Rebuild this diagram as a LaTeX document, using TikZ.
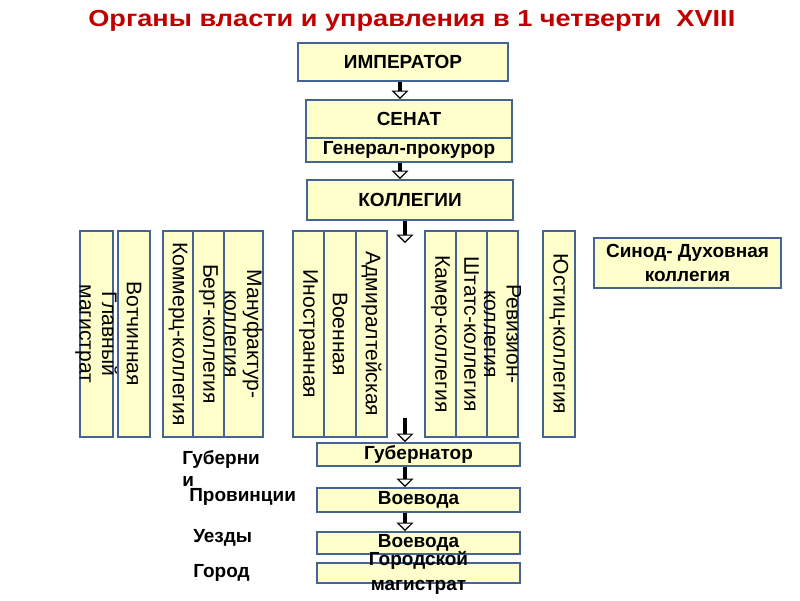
\documentclass[tikz,border=0pt]{standalone}
\usepackage{fontspec}
\setmainfont{Liberation Sans}
\usetikzlibrary{arrows.meta}

\begin{document}
\begin{tikzpicture}[x=0.025cm,y=-0.025cm]
    \definecolor{org_fill}{RGB}{255,255,204}
    \definecolor{org_edge}{RGB}{70,100,145}
    \definecolor{org_title}{RGB}{192,0,0}
    \tikzset{
      hbox/.style={shape=rectangle,draw=org_edge,line width=1.4pt,fill=org_fill,inner sep=0pt,align=center,font=\fontsize{13.5}{17.5}\selectfont\bfseries},
      coll/.style={shape=rectangle,draw=org_edge,line width=1.4pt,fill=org_fill,inner sep=0pt,minimum height=5.15cm},
      vtext/.style={rotate=-90,align=center,inner sep=0pt,font=\fontsize{15}{16}\selectfont},
      hlab/.style={align=center,inner sep=0pt,font=\fontsize{13.5}{18}\selectfont\bfseries},
      flow/.style={line width=2.8pt,-{Triangle[width=12pt,length=6pt,line width=0.8pt,fill=white]}},
      side/.style={anchor=west,inner sep=0pt,font=\fontsize{13.5}{16}\selectfont\bfseries}
    }
    \useasboundingbox (0,0) rectangle (800,600);
    \node[anchor=west,inner sep=0pt,xscale=1.17,text=org_title,font=\fontsize{16.5}{18}\selectfont\bfseries] (title) at (88,21) {Органы власти и управления в 1 четверти\ \ XVIII};
    % top of the hierarchy
    \node[hbox,minimum width=5.25cm,minimum height=0.95cm] (imp) at (403,62) {ИМПЕРАТОР};
    \node[hbox,minimum width=5.15cm,minimum height=0.95cm] (senat) at (409,119) {СЕНАТ};
    \node[hbox,minimum width=5.15cm,minimum height=0.6cm] (prok) at (409,150) {Генерал-прокурор};
    \node[hbox,minimum width=5.15cm,minimum height=1cm] (kol) at (410,200) {КОЛЛЕГИИ};
    % colleges
    \node[coll,minimum width=0.825cm,label={[vtext]center:Главный\\магистрат}] (glav) at (96.5,334) {};
    \node[coll,minimum width=0.8cm,label={[vtext]center:Вотчинная}] (votch) at (134,334) {};
    \node[coll,minimum width=0.75cm,label={[vtext]center:Коммерц-коллегия}] (komm) at (178,334) {};
    \node[coll,minimum width=0.775cm,label={[vtext]center:Берг-коллегия}] (berg) at (208.5,334) {};
    \node[coll,minimum width=0.975cm,label={[vtext]center:Мануфактур-\\коллегия}] (manuf) at (243.5,334) {};
    \node[coll,minimum width=0.775cm,label={[vtext]center:Иностранная}] (inostr) at (308.5,334) {};
    \node[coll,minimum width=0.8cm,label={[vtext]center:Военная}] (voen) at (340,334) {};
    \node[coll,minimum width=0.775cm,label={[vtext]center:Адмиралтейская}] (admir) at (371.5,334) {};
    \node[coll,minimum width=0.775cm,label={[vtext]center:Камер-коллегия}] (kamer) at (440.5,334) {};
    \node[coll,minimum width=0.775cm,label={[vtext]center:Штатс-коллегия}] (shtats) at (471.5,334) {};
    \node[coll,minimum width=0.775cm,label={[vtext]center:Ревизион-\\коллегия}] (reviz) at (502.5,334) {};
    \node[coll,minimum width=0.8cm,label={[vtext]center:Юстиц-коллегия}] (just) at (559,334) {};
    \node[hbox,minimum width=4.675cm,minimum height=1.25cm] (sinod) at (687.5,263) {Синод- Духовная\\коллегия};
    % local government
    \node[hbox,minimum width=5.075cm,minimum height=0.575cm] (gub) at (418.5,454.5) {Губернатор};
    \node[hbox,minimum width=5.075cm,minimum height=0.6cm] (voev1) at (418.5,500) {Воевода};
    \node[hbox,minimum width=5.075cm,minimum height=0.55cm] (voev2) at (418.5,543) {Воевода};
    \node[hbox,minimum width=5.075cm,minimum height=0.5cm,label={[hlab]center:Городской\\магистрат}] (gmag) at (418.5,573) {};
    \node[side,anchor=north west,align=left] (gubl) at (182,450) {Губерни\\и};
    \node[side] (prov) at (189,497) {Провинции};
    \node[side] (uezd) at (193,538) {Уезды};
    \node[side] (gorod) at (193,573) {Город};
    % arrows
    \coordinate (ax1) at (400,0);
    \coordinate (ax2) at (405,0);
    \coordinate (k1) at (405,243);
    \coordinate (k2) at (405,418);
    \draw[flow] (imp.south -| ax1) -- (senat.north -| ax1);
    \draw[flow] (prok.south -| ax1) -- (kol.north -| ax1);
    \draw[flow] (kol.south -| ax2) -- (k1);
    \draw[flow] (k2) -- (gub.north -| k2);
    \draw[flow] (gub.south -| ax2) -- (voev1.north -| ax2);
    \draw[flow] (voev1.south -| ax2) -- (voev2.north -| ax2);
\end{tikzpicture}
\end{document}
